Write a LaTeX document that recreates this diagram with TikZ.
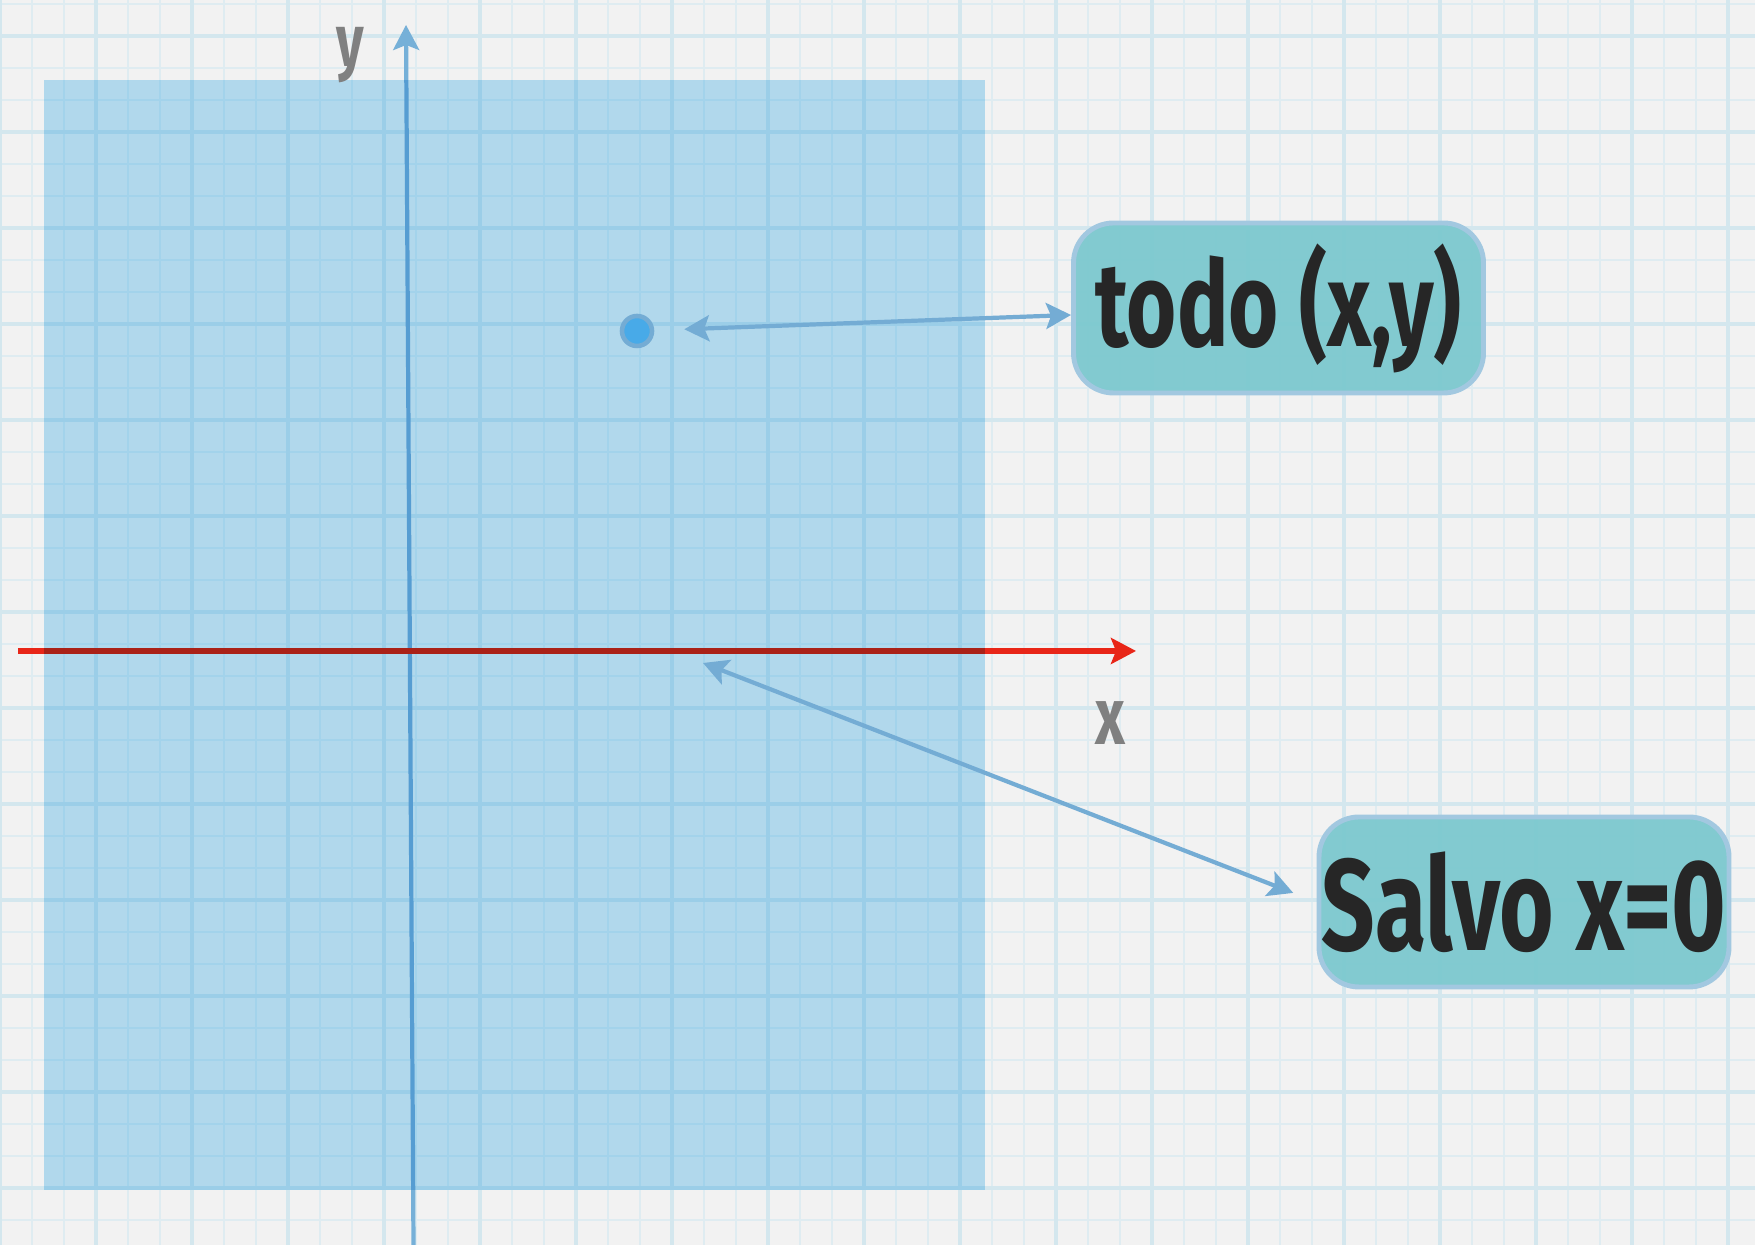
\documentclass[tikz,border=0pt]{standalone}
\usepackage{fontspec}
\usetikzlibrary{arrows.meta}
\newfontfamily\handfont{Fira Sans}[FakeStretch=0.72]
\definecolor{paper}{RGB}{242,242,242}
\definecolor{gridline}{RGB}{223,236,241}
\definecolor{gridmaj}{RGB}{212,231,238}
\definecolor{regionblue}{RGB}{187,228,249}
\definecolor{axisblue}{RGB}{118,176,216}
\definecolor{axisred}{RGB}{232,38,24}
\definecolor{linkblue}{RGB}{116,172,212}
\definecolor{tagfill}{RGB}{122,200,206}
\definecolor{tagedge}{RGB}{162,200,224}
\definecolor{dotfill}{RGB}{72,170,232}
\definecolor{labelgrey}{RGB}{128,128,128}

\begin{document}
\begin{tikzpicture}[
    >={Stealth[length=0.25cm,width=0.26cm,inset=0.05cm]},
    gridminor/.style={gridline, line width=0.8pt},
    gridmajor/.style={gridmaj, line width=1pt},
    axis/.style={->, line width=1.2pt},
    link/.style={<->, linkblue, line width=1.2pt},
    dotnode/.style={circle, fill=dotfill, draw=linkblue, line width=1.3pt, minimum size=0.3cm, inner sep=0pt},
    tagbox/.style={fill=tagfill, fill opacity=0.93, text opacity=1, draw=tagedge, line width=1.4pt,
      rounded corners=0.4cm, minimum width=4.1cm, minimum height=1.7cm, inner sep=0pt,
      text=black!85, font=\handfont\bfseries\fontsize{34}{34}\selectfont},
    axislabel/.style={text=labelgrey, anchor=base, inner sep=0pt, text height=0.42cm,
      font=\handfont\bfseries\fontsize{21}{21}\selectfont}
  ]
    \useasboundingbox (0,0) rectangle (17.55,12.45);
    % squared paper
    \fill[paper] (0,0) rectangle (17.55,12.45);
    \foreach \i in {0,...,54} \draw[gridminor] (\i*0.32,0) -- ++(0,12.45);
    \foreach \j in {0,...,38} \draw[gridminor] (0,12.41-\j*0.32) -- ++(17.55,0);
    \foreach \i in {0,...,18} \draw[gridmajor] (\i*0.96,0) -- ++(0,12.45);
    \foreach \j in {0,...,12} \draw[gridmajor] (0,12.09-\j*0.96) -- ++(17.55,0);

    % axes, under the region
    \draw[axis, axisblue] (4.135,0) -- (4.06,12.20);
    \draw[axis, axisred, line width=1.6pt] (0.18,5.94) -- (11.36,5.94);
    \fill[regionblue, blend mode=multiply] (0.44,0.55) rectangle (9.85,11.65);
    \node[axislabel] (ylab) at (3.50,11.78) {y};
    \node[axislabel, font=\handfont\bfseries\fontsize{23}{23}\selectfont] (xlab) at (11.10,5.00) {x};

    \node[dotnode] (pt) at (6.37,9.14) {};
    \coordinate (onx) at (7.03,5.82);
    \node[tagbox] (todo) at (12.785,9.37) {todo (x,y)};
    \node[tagbox, font=\handfont\bfseries\fontsize{37}{37}\selectfont] (salvo) at (15.24,3.43) {Salvo x=0};

    \draw[link, shorten <=0.3cm] (pt) -- ([yshift=-0.07cm]todo.west);
    \draw[link, shorten >=0.25cm] (onx) -- (salvo.west);
\end{tikzpicture}
\end{document}
